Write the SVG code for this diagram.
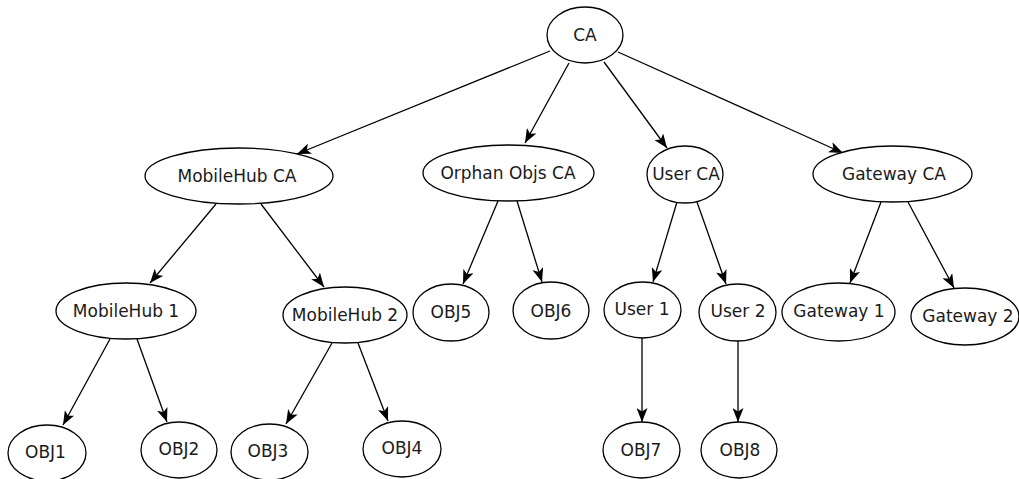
<svg xmlns="http://www.w3.org/2000/svg" width="1019" height="479" viewBox="0 0 1019 479">
<style>
.n ellipse{fill:#fff;stroke:#000;stroke-width:1.3}
.n text{font-family:"DejaVu Sans",sans-serif;font-size:17px;fill:#1a1a1a;text-anchor:middle}
#edges line{stroke:#000;stroke-width:1.3;marker-end:url(#ah)}
</style>
<defs>
<marker id="ah" markerUnits="userSpaceOnUse" markerWidth="15" markerHeight="11" refX="14" refY="5.5" orient="auto" viewBox="0 0 15 11">
<path d="M0,0 L14,5.5 L0,11 L3.5,5.5 z" fill="#000"/>
</marker>
</defs>
<rect width="1019" height="479" fill="#fff"/>
<g id="edges">
<line x1="550" y1="51" x2="297" y2="154"/>
<line x1="569" y1="63" x2="525" y2="143"/>
<line x1="604" y1="62" x2="667" y2="148"/>
<line x1="618" y1="52" x2="843" y2="153"/>
<line x1="216" y1="204" x2="150" y2="283"/>
<line x1="261" y1="204" x2="324" y2="287"/>
<line x1="498" y1="201" x2="463" y2="284"/>
<line x1="517" y1="201" x2="542" y2="282"/>
<line x1="677" y1="202" x2="653" y2="282"/>
<line x1="697" y1="202" x2="726" y2="284"/>
<line x1="881" y1="202" x2="850" y2="283"/>
<line x1="908" y1="202" x2="954" y2="288"/>
<line x1="110" y1="339" x2="63" y2="425"/>
<line x1="137" y1="339" x2="167" y2="422"/>
<line x1="332" y1="343" x2="286" y2="424"/>
<line x1="358" y1="343" x2="388" y2="421"/>
<line x1="642" y1="338" x2="642" y2="422"/>
<line x1="738" y1="341" x2="738" y2="422"/>
</g>
<g id="CA" class="n"><ellipse cx="585" cy="35" rx="38" ry="28"/><text x="585" y="41">CA</text></g>
<g id="MobileHubCA" class="n"><ellipse cx="239" cy="176" rx="94" ry="28"/><text x="237" y="182">MobileHub CA</text></g>
<g id="OrphanObjsCA" class="n"><ellipse cx="508.5" cy="173" rx="85.5" ry="28"/><text x="508" y="179">Orphan Objs CA</text></g>
<g id="UserCA" class="n"><ellipse cx="685" cy="174.5" rx="38" ry="28.5"/><text x="686" y="180">User CA</text></g>
<g id="GatewayCA" class="n"><ellipse cx="892.5" cy="174" rx="79.5" ry="28"/><text x="894" y="180">Gateway CA</text></g>
<g id="MobileHub1" class="n"><ellipse cx="126" cy="311" rx="70" ry="28"/><text x="126" y="317">MobileHub 1</text></g>
<g id="MobileHub2" class="n"><ellipse cx="345" cy="315" rx="62" ry="28"/><text x="345" y="321">MobileHub 2</text></g>
<g id="OBJ5" class="n"><ellipse cx="451" cy="312.5" rx="38" ry="28.5"/><text x="451" y="318">OBJ5</text></g>
<g id="OBJ6" class="n"><ellipse cx="551" cy="310.5" rx="38" ry="28.5"/><text x="551" y="317">OBJ6</text></g>
<g id="User1" class="n"><ellipse cx="642.5" cy="310" rx="38.5" ry="28"/><text x="642" y="315">User 1</text></g>
<g id="User2" class="n"><ellipse cx="737.5" cy="312.5" rx="38.5" ry="28.5"/><text x="738" y="317">User 2</text></g>
<g id="Gateway1" class="n"><ellipse cx="838.5" cy="312" rx="56.5" ry="29"/><text x="839" y="317">Gateway 1</text></g>
<g id="Gateway2" class="n"><ellipse cx="965" cy="316.5" rx="54" ry="28.5"/><text x="968" y="322">Gateway 2</text></g>
<g id="OBJ1" class="n"><ellipse cx="47" cy="453" rx="39" ry="28"/><text x="45.5" y="458">OBJ1</text></g>
<g id="OBJ2" class="n"><ellipse cx="179" cy="450" rx="38" ry="28"/><text x="179" y="455">OBJ2</text></g>
<g id="OBJ3" class="n"><ellipse cx="269.5" cy="452" rx="38.5" ry="28"/><text x="268" y="457">OBJ3</text></g>
<g id="OBJ4" class="n"><ellipse cx="402" cy="449" rx="39" ry="28"/><text x="402" y="454">OBJ4</text></g>
<g id="OBJ7" class="n"><ellipse cx="641.5" cy="450" rx="38.5" ry="28"/><text x="641" y="456">OBJ7</text></g>
<g id="OBJ8" class="n"><ellipse cx="739" cy="450" rx="38" ry="28"/><text x="740" y="456">OBJ8</text></g>
</svg>
